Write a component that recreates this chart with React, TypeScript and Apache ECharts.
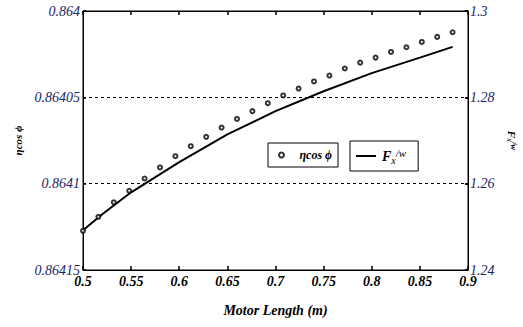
import React, { useEffect, useRef } from "react";
import * as echarts from "echarts";

const motorLength = [
  0.5, 0.516, 0.532, 0.548, 0.564, 0.58, 0.596, 0.612, 0.628, 0.644, 0.66, 0.676, 0.692,
  0.708, 0.724, 0.74, 0.756, 0.772, 0.788, 0.804, 0.82, 0.836, 0.852, 0.868, 0.884,
];
const etaCosPhi = [
  0.8641273, 0.8641192, 0.8641108, 0.8641041, 0.864097, 0.8640906, 0.8640841, 0.8640783,
  0.8640729, 0.8640675, 0.8640625, 0.864058, 0.8640534, 0.8640489, 0.8640449, 0.8640408,
  0.8640374, 0.8640333, 0.8640299, 0.864027, 0.8640237, 0.864021, 0.8640179, 0.864015,
  0.8640123,
];
const lineX = [0.5, 0.52, 0.55, 0.6, 0.65, 0.7, 0.75, 0.8, 0.85, 0.884];
const fxOverW = [1.2492, 1.2529, 1.258, 1.265, 1.2714, 1.2768, 1.2814, 1.2856, 1.2892, 1.2917];

const leftTicks = { min: 0.864, max: 0.86415, interval: 0.00005 };
const rightTicks = { min: 1.24, max: 1.3, interval: 0.02 };
const xTicks = { min: 0.5, max: 0.9, interval: 0.05 };

const SERIF = "Liberation Serif";
const NAVY = "#1c2566";

export default function App() {
  const ref = useRef<HTMLDivElement>(null);
  useEffect(() => {
    if (!ref.current) return;
    const chart = echarts.init(ref.current, undefined, { renderer: "svg" });
    chart.setOption({
      animation: false,
      backgroundColor: "#fff",
      textStyle: { fontFamily: SERIF },
      grid: {
        left: 83,
        right: 55,
        top: 11,
        bottom: 57,
        outerBoundsMode: "none",
        containLabel: false,
        show: true,
        borderColor: "#000",
        borderWidth: 1,
        backgroundColor: "transparent",
      },
      legend: [
        {
          data: [{ name: "eta", icon: "emptyCircle" }],
          left: 268,
          top: 143,
          itemWidth: 14,
          itemHeight: 5,
          borderColor: "#000",
          borderWidth: 1,
          padding: [6, 6, 6, 10],
          itemGap: 4,
          formatter: () => "{a|ηcos ϕ}",
          textStyle: {
            fontFamily: SERIF,
            rich: {
              a: { fontFamily: SERIF, fontStyle: "italic", fontWeight: "bold", fontSize: 12, color: "#000", padding: [0, 0, 0, 6] },
            },
          },
        },
        {
          data: [{ name: "fx", icon: "path://M0,0 L20,0 L20,2 L0,2 Z" }],
          left: 350,
          top: 141,
          itemWidth: 22,
          itemHeight: 2,
          borderColor: "#000",
          borderWidth: 1,
          padding: [6, 12, 6, 6],
          formatter: () => "{f|F}{s|x}{w|/w}",
          textStyle: {
            fontFamily: SERIF,
            rich: {
              f: { fontFamily: SERIF, fontStyle: "italic", fontWeight: "bold", fontSize: 14, color: "#000" },
              s: { fontFamily: SERIF, fontStyle: "italic", fontSize: 10, color: "#000", verticalAlign: "bottom", padding: [8, 0, 0, 0] },
              w: { fontFamily: SERIF, fontStyle: "italic", fontSize: 11, color: "#000", verticalAlign: "top", padding: [0, 0, 6, 0] },
            },
          },
        },
      ],
      xAxis: [
        {
          type: "value",
          min: xTicks.min,
          max: xTicks.max,
          interval: xTicks.interval,
          name: "Motor Length (m)",
          nameLocation: "middle",
          nameGap: 33,
          nameTextStyle: { fontFamily: SERIF, fontStyle: "italic", fontWeight: "bold", fontSize: 14, color: "#000" },
          axisLine: { show: true, lineStyle: { color: "#000", width: 1 } },
          axisTick: { show: true, inside: true, length: 4, lineStyle: { color: "#000", width: 1.5 } },
          splitLine: { show: false },
          axisLabel: {
            fontFamily: SERIF,
            fontStyle: "italic",
            fontWeight: "bold",
            fontSize: 14,
            color: "#000",
            margin: 4,
            formatter: (v: number) => String(+v.toFixed(2)),
          },
        },
        {
          type: "value",
          position: "top",
          min: xTicks.min,
          max: xTicks.max,
          interval: xTicks.interval,
          axisLine: { show: true, lineStyle: { color: "#000" } },
          axisTick: { show: true, inside: true, length: 4, lineStyle: { color: "#000", width: 1.5 } },
          axisLabel: { show: false },
          splitLine: { show: false },
        },
      ],
      yAxis: [
        {
          type: "value",
          inverse: true,
          min: leftTicks.min,
          max: leftTicks.max,
          interval: leftTicks.interval,
          name: "ηcos ϕ",
          nameLocation: "middle",
          nameRotate: 90,
          nameGap: 57,
          nameTextStyle: { fontFamily: SERIF, fontStyle: "italic", fontWeight: "bold", fontSize: 11, color: "#000" },
          axisLine: { show: true, lineStyle: { color: "#000" } },
          axisTick: { show: true, inside: true, length: 3, lineStyle: { color: "#000", width: 1.5 } },
          splitLine: { show: true, lineStyle: { color: "#000", type: [3, 3], width: 1 } },
          axisLabel: {
            fontFamily: SERIF,
            fontStyle: "italic",
            fontSize: 14,
            color: NAVY,
            margin: 3,
            formatter: (v: number) => String(+v.toFixed(5)),
          },
        },
        {
          type: "value",
          min: rightTicks.min,
          max: rightTicks.max,
          interval: rightTicks.interval,
          name: "{f|F}{s|x}{w|/w}",
          nameLocation: "middle",
          nameRotate: -90,
          nameGap: 36,
          nameTextStyle: {
            fontFamily: SERIF,
            rich: {
              f: { fontFamily: SERIF, fontStyle: "italic", fontWeight: "bold", fontSize: 11, color: "#000" },
              s: { fontFamily: SERIF, fontStyle: "italic", fontSize: 8, color: "#000", verticalAlign: "bottom", padding: [5, 0, 0, 0] },
              w: { fontFamily: SERIF, fontStyle: "italic", fontWeight: "bold", fontSize: 9, color: "#000", verticalAlign: "top", padding: [0, 0, 3, 0] },
            },
          },
          axisLine: { show: true, lineStyle: { color: "#000" } },
          axisTick: { show: true, inside: true, length: 3, lineStyle: { color: "#000", width: 2 } },
          splitLine: { show: false },
          axisLabel: {
            fontFamily: SERIF,
            fontStyle: "italic",
            fontSize: 14,
            color: NAVY,
            margin: 2,
            formatter: (v: number) => String(+v.toFixed(2)),
          },
        },
      ],
      series: [
        {
          name: "eta",
          type: "scatter",
          xAxisIndex: 0,
          yAxisIndex: 0,
          data: motorLength.map((x, i) => [x, etaCosPhi[i]]),
          symbol: "emptyCircle",
          symbolSize: 4,
          itemStyle: { color: "#000", borderColor: "#000", borderWidth: 1 },
          z: 3,
        },
        {
          name: "fx",
          type: "line",
          xAxisIndex: 0,
          yAxisIndex: 1,
          data: lineX.map((x, i) => [x, fxOverW[i]]),
          smooth: false,
          showSymbol: false,
          symbol: "none",
          lineStyle: { color: "#000", width: 2 },
          itemStyle: { color: "#000" },
          z: 2,
        },
      ],
    });
    return () => chart.dispose();
  }, []);
  return <div ref={ref} style={{ position: "fixed", left: 0, top: 0, width: 523, height: 327 }} />;
}
